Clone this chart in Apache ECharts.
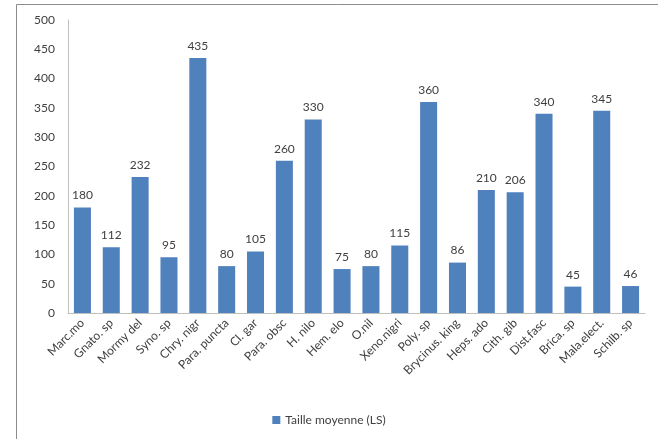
<!DOCTYPE html>
<html>
<head>
<meta charset="utf-8">
<script src="https://cdn.jsdelivr.net/npm/echarts@6/dist/echarts.min.js"></script>
<style>
  html, body { margin: 0; padding: 0; background: #fff; }
  #chart { width: 658px; height: 439px; }
</style>
</head>
<body>
<div id="chart"></div>
<script>
// Species (abbreviated names)
const categories = [
  'Marc.mo', 'Gnato. sp', 'Mormy del', 'Syno. sp', 'Chry. nigr',
  'Para. puncta', 'Cl. gar', 'Para. obsc', 'H. nilo', 'Hem. elo',
  'O.nil', 'Xeno.nigri', 'Poly. sp', 'Brycinus. king', 'Heps. ado',
  'Cith. gib', 'Dist.fasc', 'Brica. sp', 'Mala.elect.', 'Schilb. sp'
];
// Mean standard length per species
const tailleMoyenne = [
  180, 112, 232, 95, 435,
  80, 105, 260, 330, 75,
  80, 115, 360, 86, 210,
  206, 340, 45, 345, 46
];
const seriesName = 'Taille moyenne (LS)';
const yTicks = { min: 0, max: 500, interval: 50 };

const font = 'Lato, "Open Sans", sans-serif';
const chart = echarts.init(document.getElementById('chart'));
chart.setOption({
  animation: false,
  backgroundColor: '#ffffff',
  textStyle: { fontFamily: font },
  graphic: [{
    type: 'rect',
    shape: { x: 16.5, y: 4.5, width: 660, height: 460 },
    style: { fill: 'none', stroke: '#8c8c8c', lineWidth: 1 },
    silent: true,
    z: -1
  }],
  grid: { left: 68, right: 13, top: 20, bottom: 126, containLabel: false },
  legend: {
    bottom: 8,
    left: 'center',
    itemWidth: 8,
    itemHeight: 8,
    itemGap: 5,
    icon: 'rect',
    textStyle: { fontFamily: font, fontSize: 12, color: '#404040' },
    data: [seriesName]
  },
  xAxis: {
    type: 'category',
    data: categories,
    axisLine: { lineStyle: { color: '#bfbfbf' } },
    axisTick: { show: false },
    axisLabel: {
      rotate: 45,
      interval: 0,
      margin: 8,
      fontSize: 12,
      color: '#404040',
      fontFamily: font
    }
  },
  yAxis: {
    type: 'value',
    min: yTicks.min,
    max: yTicks.max,
    interval: yTicks.interval,
    axisLine: { show: true, lineStyle: { color: '#bfbfbf' } },
    axisTick: { show: false },
    splitLine: { show: false },
    axisLabel: { fontSize: 12, color: '#404040', margin: 13, fontFamily: font }
  },
  series: [{
    name: seriesName,
    type: 'bar',
    data: tailleMoyenne,
    barCategoryGap: '41%',
    itemStyle: { color: '#4f81bd' },
    label: {
      show: true,
      position: 'top',
      distance: 6,
      fontSize: 12,
      color: '#404040',
      fontFamily: font
    }
  }]
});
</script>
</body>
</html>
